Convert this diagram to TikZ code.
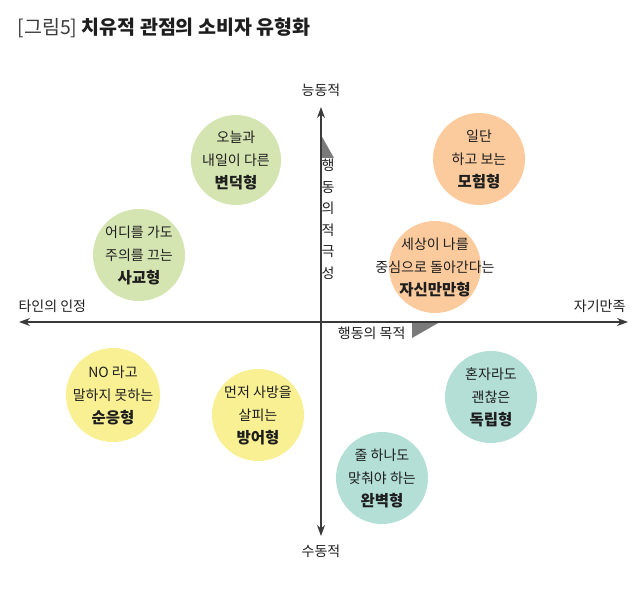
\documentclass[tikz,border=0pt]{standalone}
\usepackage{fontspec}
\setmainfont{Noto Sans CJK KR}
\usepackage{tikz}
\usetikzlibrary{arrows.meta,positioning,backgrounds}
\definecolor{sage}{HTML}{D5E5B2}
\definecolor{peach}{HTML}{FBCB9E}
\definecolor{lemon}{HTML}{F9F093}
\definecolor{mint}{HTML}{B4DFD7}
\definecolor{ink}{HTML}{1E1E1E}
\definecolor{axisgray}{HTML}{3A3A3A}
\definecolor{flag}{HTML}{7A7A7A}
\newcommand{\kind}[1]{{\fontsize{15.5}{23}\selectfont\bfseries #1}}

\begin{document}
\begin{tikzpicture}[
  x=1pt,y=-1pt,
  font=\fontsize{14}{23}\selectfont,
  text=ink,
  type/.style={align=center,inner sep=0pt},
  lab/.style={font=\fontsize{14}{16}\selectfont},
  axis/.style={{Stealth[length=11pt,width=8pt]}-{Stealth[length=11pt,width=8pt]},line width=1.1pt,draw=axisgray}
]
\useasboundingbox (0,0) rectangle (640,591);
% title
\node[anchor=west,font=\fontsize{19.5}{22}\selectfont] (title) at (14,28)
  {{\color{axisgray}[그림5]} \bfseries 치유적 관점의 소비자 유형화};
% axes
\coordinate (top) at (321,107);
\coordinate (bottom) at (321,536);
\coordinate (left) at (19,322);
\coordinate (right) at (628,322);
\fill[flag] (321,135) -- (321,158) -- (334,158) -- cycle;
\fill[flag] (440,322) -- (412,322) -- (412,338) -- cycle;
\draw[axis] (bottom) -- (top);
\draw[axis] (left) -- (right);
\node[lab,above=7pt of top] (active) {능동적};
\node[lab,below=5pt of bottom] (passive) {수동적};
\node[lab,anchor=south west] (other) at (15,316) {타인의 인정};
\node[lab,anchor=south east] (self) at (629,316) {자기만족};
\node[lab,anchor=north east] (goal) at (409,323) {행동의 목적};
\node[lab,align=center,font=\fontsize{14}{21.5}\selectfont] (drive) at (328,219) {행\\동\\의\\적\\극\\성};
% types
\node[type] (whim) at (236,160) {오늘과\\내일이 다른\\\kind{변덕형}};
\node[type] (social) at (139,255) {어디를 가도\\주의를 끄는\\\kind{사교형}};
\node[type] (risk) at (479,159) {일단\\하고 보는\\\kind{모험형}};
\node[type] (sure) at (435,267) {세상이 나를\\중심으로 돌아간다는\\\kind{자신만만형}};
\node[type] (yield) at (113,395) {NO 라고\\말하지 못하는\\\kind{순응형}};
\node[type] (guard) at (258,415) {먼저 사방을\\살피는\\\kind{방어형}};
\node[type] (alone) at (491,397) {혼자라도\\괜찮은\\\kind{독립형}};
\node[type] (perfect) at (382,478) {줄 하나도\\맞춰야 하는\\\kind{완벽형}};
\begin{scope}[on background layer]
  \fill[sage] (whim) circle (45) (social) circle (46);
  \fill[peach] (risk) circle (46) (sure) circle (46);
  \fill[lemon] (yield) circle (47) (guard) circle (46);
  \fill[mint] (alone) circle (46) (perfect) circle (46);
\end{scope}
\end{tikzpicture}
\end{document}
